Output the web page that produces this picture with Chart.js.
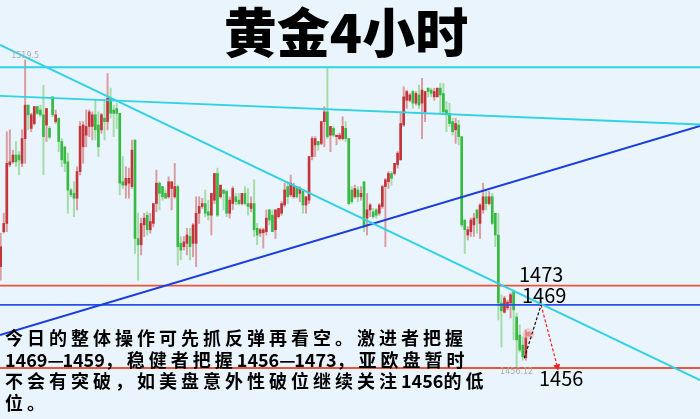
<!DOCTYPE html>
<html>
<head>
<meta charset="utf-8">
<style>
  html, body { margin: 0; padding: 0; background: #eaf4fc; }
  #wrap { width: 700px; height: 419px; }
</style>
<script src="https://cdn.jsdelivr.net/npm/chart.js@4/dist/chart.umd.min.js"></script>
</head>
<body>
<div id="wrap"><canvas id="c" width="700" height="419"></canvas></div>
<script>
// Gold, 4-hour candles (oldest first)
const open = [
  1476.9,1484.1,1485.8,1497.9,1498.5,1499.9,1499.9,1498.2,1503.3,1510.2,
  1505.4,1506.4,1509.9,1509.2,1508.2,1506.1,1505.4,1511.9,1506.8,1507.5,
  1502.7,1501.6,1498.5,1492.7,1492.0,1491.0,1496.5,1501.6,1504.0,1505.8,
  1505.8,1508.2,1506.1,1505.1,1507.5,1506.8,1511.6,1509.2,1509.5,1508.5,
  1494.4,1493.7,1494.1,1493.4,1503.0,1482.7,1481.4,1485.5,1487.5,1484.5,
  1485.8,1489.9,1494.1,1493.4,1492.0,1491.3,1493.0,1491.3,1493.4,1481.7,
  1481.0,1481.7,1483.1,1481.7,1481.7,1487.9,1489.3,1489.9,1488.2,1487.5,
  1490.6,1496.1,1491.3,1492.7,1492.4,1487.9,1489.9,1491.3,1490.6,1489.9,
  1492.0,1489.9,1488.9,1489.9,1484.8,1483.8,1483.9,1484.1,1488.6,1487.5,
  1484.5,1487.2,1487.9,1489.6,1493.4,1491.7,1491.3,1493.4,1492.0,1492.4,
  1489.6,1490.6,1499.6,1502.0,1502.7,1502.3,1506.8,1508.8,1504.0,1505.4,
  1503.7,1503.3,1503.3,1505.4,1503.3,1492.7,1491.3,1492.7,1491.3,1494.4,
  1486.9,1488.6,1488.2,1488.6,1487.9,1489.3,1493.4,1494.4,1496.1,1496.1,
  1497.9,1498.9,1506.1,1511.2,1511.2,1513.0,1510.6,1512.3,1510.6,1508.8,
  1513.7,1513.3,1511.9,1511.9,1513.7,1512.6,1509.2,1508.5,1506.8,1505.1,
  1506.1,1503.7,1486.5,1483.4,1484.1,1485.5,1488.6,1485.8,1488.6,1491.3,
  1489.9,1491.3,1487.9,1483.4,1469.4,1467.5,1468.4,1469.4,1471.7,1466.5,
  1462.8,1460.7,1458.1
];
const high = [
  1483.8,1487.9,1504.7,1505.1,1500.9,1502.7,1500.6,1505.1,1519.5,1510.2,
  1508.5,1509.9,1509.9,1510.2,1514.3,1509.5,1505.8,1511.9,1509.2,1507.5,
  1503.3,1501.6,1500.3,1493.0,1494.4,1497.5,1506.8,1506.8,1509.2,1509.2,
  1508.8,1511.2,1508.8,1508.5,1511.2,1516.7,1513.7,1510.2,1510.6,1508.5,
  1499.6,1497.5,1497.2,1503.0,1503.0,1487.9,1486.9,1487.9,1488.2,1487.9,
  1489.9,1496.8,1494.4,1493.4,1492.7,1495.4,1494.4,1498.2,1493.7,1483.1,
  1483.1,1484.8,1484.8,1485.8,1491.3,1491.3,1491.0,1492.7,1490.6,1492.0,
  1496.1,1497.2,1493.7,1492.7,1492.7,1491.3,1493.4,1492.0,1492.0,1492.0,
  1493.4,1493.0,1491.3,1494.8,1485.8,1484.8,1484.8,1488.6,1488.6,1488.6,
  1488.6,1488.9,1490.3,1494.1,1494.4,1495.8,1494.1,1493.4,1493.4,1492.7,
  1491.3,1499.6,1503.7,1503.7,1502.7,1506.8,1509.9,1517.8,1505.8,1505.8,
  1504.0,1504.4,1507.8,1506.8,1503.3,1493.4,1493.7,1493.4,1493.4,1494.4,
  1492.0,1489.9,1488.9,1488.9,1489.9,1493.7,1495.1,1496.5,1496.5,1498.2,
  1500.6,1508.8,1514.0,1513.3,1512.6,1513.3,1513.0,1514.3,1515.7,1513.0,
  1513.7,1513.7,1513.7,1513.7,1514.7,1514.7,1510.9,1510.6,1507.5,1507.5,
  1507.1,1503.7,1486.5,1485.1,1486.9,1487.9,1488.6,1489.9,1494.1,1492.4,
  1492.4,1492.0,1487.9,1487.9,1471.1,1470.8,1470.0,1471.5,1472.1,1467.3,
  1464.9,1462.4,1463.8
];
const low = [
  1474.1,1483.8,1484.1,1497.5,1498.2,1497.5,1495.8,1497.5,1498.2,1505.1,
  1504.7,1506.1,1508.2,1507.8,1495.8,1502.7,1503.3,1507.8,1506.4,1500.6,
  1497.5,1496.5,1487.9,1491.3,1487.2,1488.6,1495.8,1498.2,1501.6,1503.7,
  1503.0,1503.0,1499.6,1504.4,1503.0,1505.1,1507.5,1503.7,1505.4,1491.7,
  1493.0,1491.0,1491.0,1493.0,1479.6,1474.1,1479.3,1483.1,1483.4,1483.8,
  1485.1,1488.2,1488.6,1490.6,1491.0,1491.0,1488.6,1491.0,1477.2,1478.3,
  1480.3,1479.3,1478.3,1478.9,1476.9,1485.8,1488.9,1487.2,1486.5,1483.4,
  1489.9,1487.2,1491.0,1488.6,1487.2,1486.9,1488.6,1489.6,1489.6,1489.6,
  1489.6,1487.5,1488.2,1483.1,1481.4,1483.1,1480.7,1483.4,1485.5,1484.1,
  1482.7,1486.9,1487.5,1489.3,1489.9,1491.3,1491.0,1491.0,1490.3,1487.9,
  1487.9,1489.9,1498.9,1499.6,1500.9,1502.0,1501.6,1503.3,1500.6,1503.7,
  1502.0,1503.0,1503.0,1502.7,1489.6,1489.9,1491.0,1490.3,1490.6,1484.1,
  1483.4,1487.2,1486.9,1486.9,1487.5,1488.9,1481.0,1493.0,1493.7,1495.8,
  1497.2,1498.9,1505.8,1509.5,1510.9,1509.5,1510.2,1509.5,1503.3,1506.8,
  1511.9,1511.9,1511.2,1511.9,1508.5,1508.2,1504.7,1505.8,1504.0,1502.3,
  1502.0,1485.1,1479.6,1482.4,1483.1,1483.1,1483.8,1482.7,1487.9,1488.6,
  1489.6,1485.5,1481.0,1465.9,1460.3,1467.3,1468.0,1466.3,1461.8,1456.12,
  1459.3,1457.6,1457.6
];
const close = [
  1481.0,1485.8,1498.2,1498.5,1499.9,1498.5,1498.9,1503.3,1510.2,1508.2,
  1508.2,1509.9,1508.5,1508.2,1503.7,1509.5,1503.6,1508.2,1508.2,1502.7,
  1498.9,1498.2,1492.7,1491.7,1491.0,1496.5,1505.8,1506.1,1505.8,1508.8,
  1508.2,1505.1,1501.6,1508.2,1506.8,1511.6,1508.5,1508.5,1508.5,1494.1,
  1493.7,1495.1,1495.1,1500.9,1482.7,1481.4,1485.8,1486.9,1484.5,1486.2,
  1489.9,1494.1,1492.0,1491.3,1491.0,1494.4,1494.4,1493.4,1481.0,1480.3,
  1482.0,1483.4,1481.0,1485.5,1487.9,1489.3,1489.9,1487.9,1487.5,1492.0,
  1496.1,1487.5,1493.7,1492.0,1487.9,1490.6,1493.0,1490.3,1489.9,1492.0,
  1489.9,1489.3,1489.9,1484.5,1483.4,1484.5,1484.5,1486.9,1486.5,1484.1,
  1488.6,1488.9,1489.9,1492.7,1491.3,1494.1,1493.4,1491.3,1493.0,1489.6,
  1491.3,1499.6,1503.3,1503.3,1502.0,1506.8,1508.8,1503.7,1505.8,1504.0,
  1504.0,1504.0,1505.8,1503.3,1489.9,1490.3,1493.0,1491.3,1492.0,1485.1,
  1488.6,1489.6,1487.2,1487.5,1489.6,1493.4,1494.8,1496.1,1495.1,1498.2,
  1500.3,1506.4,1511.9,1513.0,1512.3,1510.6,1512.6,1510.2,1513.3,1513.0,
  1513.0,1512.6,1513.0,1513.7,1512.3,1508.8,1508.2,1506.4,1504.7,1506.4,
  1503.7,1485.5,1484.5,1484.5,1486.5,1486.9,1486.9,1489.6,1491.3,1489.9,
  1491.3,1485.8,1483.4,1469.4,1467.8,1470.4,1469.6,1471.1,1468.0,1461.8,
  1459.7,1458.3,1462.2
];

// Key levels written on the chart
const levelUpper = 1473;
const levelPivot = 1469;
const levelTarget = 1456;

// Hand-drawn trend lines: [value at left edge, value at right edge]
const channelTop = [1518.0, 1518.0];
const resistanceSlope = [1512.1, 1506.2];
const downTrend = [1522.6, 1453.5];
const upTrend = [1462.8, 1505.9];

// Projected path: rebound to 1469, then down to 1456
const reboundPath = [[172.5, 1458.0], [178.0, 1469.0]];
const dropPath = [[178.0, 1469.0], [183.3, 1456.3]];
const markPoint = [173.9, 1463.0];

const titleText = '黄金4小时';
const noteLines = [
  '今日的整体操作可先抓反弹再看空。激进者把握',
  '1469—1459，稳健者把握1456—1473，亚欧盘暂时',
  '不会有突破，如美盘意外性破位继续关注1456的低',
  '位。'
];

const X_MIN = 0.771, X_MAX = 230.05;
const Y_MIN = 1445.48, Y_MAX = 1531.87;

const idx = open.map((_, i) => i + 1);
const up = idx.map((_, i) => close[i] >= open[i]);

const wickData = idx.map((x, i) => ({ x, y: [low[i], high[i]] }));
const bodyData = idx.map((x, i) => ({ x, y: [open[i], close[i]] }));
const wickColors = up.map(u => u ? '#d99ca1' : '#a3dca9');
const bodyColors = up.map(u => u ? '#c2353a' : '#38b944');

function edgeLine(vals, color, width) {
  return {
    type: 'line',
    data: [{ x: X_MIN, y: vals[0] }, { x: X_MAX, y: vals[1] }],
    borderColor: color, borderWidth: width,
    pointRadius: 0, tension: 0, fill: false, order: 1
  };
}

const background = {
  id: 'background',
  beforeDraw(chart) {
    const c = chart.ctx;
    c.save();
    c.fillStyle = '#eaf4fc';
    c.fillRect(0, 0, chart.width, chart.height);
    c.restore();
  }
};

function drawSpaced(c, text, x, y, wideStep, narrowStep, dashStep) {
  let cx = x;
  for (const ch of text) {
    c.fillText(ch, cx, y);
    if (ch === '—') cx += dashStep;
    else cx += ch.charCodeAt(0) > 0x2000 ? wideStep : narrowStep;
  }
}

const annotations = {
  id: 'annotations',
  afterDraw(chart) {
    const c = chart.ctx;
    const xs = chart.scales.x, ys = chart.scales.y;
    c.save();

    // title
    c.fillStyle = '#000';
    c.textAlign = 'center';
    c.textBaseline = 'middle';
    c.font = '900 53px "Noto Sans CJK SC"';
    c.fillText(titleText, 346, 33);

    // extreme price tags
    let hi = 0, lo = 0;
    high.forEach((v, i) => { if (v > high[hi]) hi = i; });
    low.forEach((v, i) => { if (v < low[lo]) lo = i; });
    c.font = '8px "DejaVu Sans"';
    c.fillStyle = '#a9a9a9';
    c.fillText(String(high[hi]), xs.getPixelForValue(idx[hi]), ys.getPixelForValue(high[hi]) - 4);
    c.fillText(String(low[lo]), xs.getPixelForValue(idx[lo]), ys.getPixelForValue(low[lo]) + 5);

    // level labels
    c.fillStyle = '#000';
    c.textAlign = 'left';
    c.textBaseline = 'alphabetic';
    c.font = '20px "Noto Sans CJK SC"';
    c.fillText(String(levelUpper), 519, ys.getPixelForValue(levelUpper) - 4);
    c.fillText(String(levelPivot), 522, ys.getPixelForValue(levelPivot) - 2);
    c.fillText(String(levelTarget), 539, ys.getPixelForValue(levelTarget) + 18);

    // commentary
    c.font = 'bold 18px "Noto Sans CJK SC"';
    c.textBaseline = 'middle';
    noteLines.forEach((line, i) => {
      drawSpaced(c, line, 5, 338.5 + i * 21.5, 22, 10.6, 15);
    });
    c.restore();
  }
};

new Chart(document.getElementById('c'), {
  type: 'bar',
  data: {
    datasets: [
      edgeLine(channelTop, '#30d2e4', 1.8),
      edgeLine(resistanceSlope, '#30d2e4', 1.8),
      edgeLine(downTrend, '#30d2e4', 1.9),
      edgeLine(upTrend, '#1a3ddd', 2),
      edgeLine([levelUpper, levelUpper], '#e9553b', 1.8),
      edgeLine([levelPivot, levelPivot], '#2650e8', 1.8),
      edgeLine([levelTarget, levelTarget], '#e9553b', 1.8),
      {
        type: 'line',
        data: reboundPath.map(p => ({ x: p[0], y: p[1] })),
        borderColor: '#111', borderWidth: 1.2, borderDash: [3, 2],
        pointRadius: 0, tension: 0, order: 0
      },
      {
        type: 'line',
        data: dropPath.map(p => ({ x: p[0], y: p[1] })),
        borderColor: '#ee2020', borderWidth: 1.2, borderDash: [3, 2],
        pointRadius: [0, 4], pointStyle: 'triangle', pointRotation: 165,
        pointBackgroundColor: '#ee2020', pointBorderColor: '#ee2020', pointBorderWidth: 0,
        tension: 0, order: 0
      },
      {
        type: 'scatter',
        data: [{ x: markPoint[0], y: markPoint[1] }],
        pointRadius: 6, backgroundColor: 'rgba(240,120,120,0.28)', borderWidth: 0, order: 0
      },
      {
        type: 'scatter',
        data: [{ x: markPoint[0], y: markPoint[1] }],
        pointRadius: 2.5, backgroundColor: 'rgba(225,60,60,0.55)', borderWidth: 0, order: 0
      },
      {
        type: 'bar', data: wickData, backgroundColor: wickColors,
        barThickness: 1.3, grouped: false, order: 3
      },
      {
        type: 'bar', data: bodyData, backgroundColor: bodyColors,
        barThickness: 2, minBarLength: 1, grouped: false, order: 2
      }
    ]
  },
  options: {
    responsive: false,
    animation: false,
    devicePixelRatio: 1,
    layout: { padding: 0, autoPadding: false },
    scales: {
      x: { type: 'linear', min: X_MIN, max: X_MAX, offset: false, display: false },
      y: { min: Y_MIN, max: Y_MAX, display: false }
    },
    plugins: { legend: { display: false }, tooltip: { enabled: false } }
  },
  plugins: [background, annotations]
});
</script>
</body>
</html>
